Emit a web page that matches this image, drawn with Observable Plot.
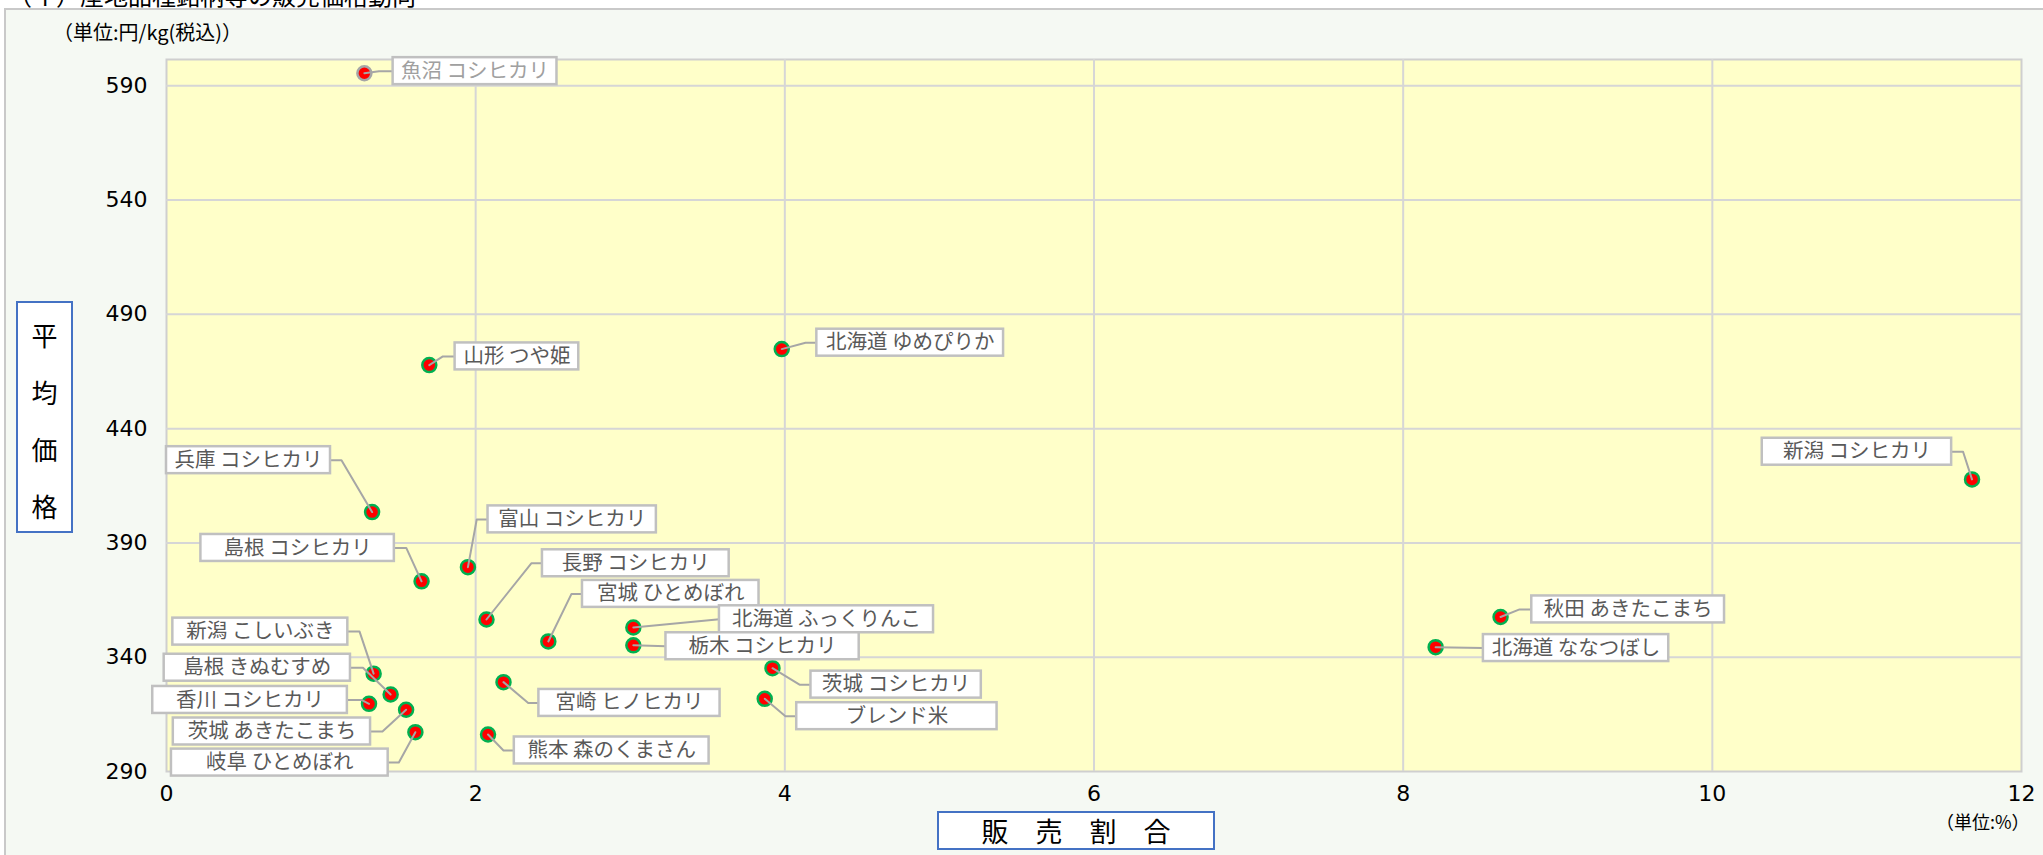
<!DOCTYPE html>
<html><head><meta charset="utf-8">
<script src="https://cdn.jsdelivr.net/npm/d3@7"></script>
<script src="https://cdn.jsdelivr.net/npm/@observablehq/plot@0.6"></script>
<style>
html,body{margin:0;padding:0;background:#fff;overflow:hidden;width:2043px;height:855px;}
#wrap{position:relative;width:2043px;height:855px;overflow:hidden;font-family:"Noto Sans CJK JP",sans-serif;}
#frame{position:absolute;left:4px;top:8px;width:2100px;height:900px;border:2px solid #c9c9c9;background:#f5f9f3;box-sizing:border-box;}
#title{position:absolute;left:8px;top:-17px;font-size:24px;line-height:24px;color:#000;white-space:nowrap;}
#chart{position:absolute;left:0;top:0;}
.unit{position:absolute;white-space:nowrap;color:#000;line-height:1;}
.axisbox{position:absolute;border:2px solid #4472c4;background:#fff;box-sizing:border-box;color:#000;text-align:center;}
</style>
</head><body>
<div id="wrap">
  <div id="title">（イ）産地品種銘柄等の販売価格動向</div>
  <div id="frame"></div>
  <div id="chart"></div>
  <div class="unit" style="left:53px;top:22px;font-size:20px;">（単位:円/kg(税込)）</div>
  <div class="unit" style="left:1936px;top:812px;font-size:18px;">（単位:%）</div>
  <div class="axisbox" style="left:16px;top:301px;width:57px;height:232px;font-size:26px;line-height:57px;padding-top:3px;">平<br>均<br>価<br>格</div>
  <div class="axisbox" style="left:937px;top:811px;width:278px;height:39px;font-size:27px;line-height:35px;">販　売　割　合</div>
</div>
<script>
// ---- data ----
const names = ["魚沼 コシヒカリ","山形 つや姫","北海道 ゆめぴりか","新潟 コシヒカリ","兵庫 コシヒカリ","富山 コシヒカリ","島根 コシヒカリ","長野 コシヒカリ","宮城 ひとめぼれ","北海道 ふっくりんこ","栃木 コシヒカリ","秋田 あきたこまち","北海道 ななつぼし","茨城 コシヒカリ","ブレンド米","宮崎 ヒノヒカリ","熊本 森のくまさん","新潟 こしいぶき","島根 きぬむすめ","香川 コシヒカリ","茨城 あきたこまち","岐阜 ひとめぼれ"];
const share = [1.28,1.70,3.98,11.68,1.33,1.95,1.65,2.07,2.47,3.02,3.02,8.63,8.21,3.92,3.87,2.18,2.08,1.34,1.45,1.31,1.55,1.61];
const price = [595.5,467.8,474.8,417.8,403.5,379.4,373.2,356.5,346.9,353.0,345.2,357.6,344.4,335.2,321.8,329.1,306.2,332.8,323.7,319.6,317.0,307.2];
const xTicks = [0,2,4,6,8,10,12];
const yTicks = [290,340,390,440,490,540,590];

// ---- label layout (data units): box left, box right, box centre y, leader elbow x ----
const labelLayout = [
  [1.466,2.526,596.4,1.375],
  [1.867,2.667,471.6,1.788],
  [4.207,5.415,477.6,4.134],
  [10.323,11.548,429.9,11.622],
  [0.0,1.061,426.2,1.132],
  [2.080,3.169,400.3,2.007],
  [0.2225,1.474,387.8,1.551],
  [2.432,3.640,381.1,2.360],
  [2.691,3.833,367.7,2.620],
  [3.577,4.962,356.6,3.577],
  [3.231,4.481,344.8,3.231],
  [8.832,10.079,360.9,8.753],
  [8.519,9.718,344.0,8.519],
  [4.169,5.271,328.0,4.095],
  [4.077,5.373,314.2,4.004],
  [2.409,3.581,320.0,2.340],
  [2.250,3.510,299.2,2.180],
  [0.041,1.173,351.2,1.249],
  [-0.015,1.190,335.4,1.271],
  [-0.089,1.170,321.3,1.261],
  [0.044,1.320,307.5,1.397],
  [0.032,1.434,293.9,1.503]
];
const BH = 5.9;
const dimmed = "魚沼 コシヒカリ";

const rows = names.map((n,i)=>({name:n, x:share[i], y:price[i],
  bx1:labelLayout[i][0], bx2:labelLayout[i][1], by:labelLayout[i][2], ex:labelLayout[i][3]}));
const leaders = rows.flatMap((d,i)=>{
  const edge = d.x < d.bx1 ? d.bx1 : d.bx2;
  return [{id:i,x:d.x,y:d.y},{id:i,x:d.ex,y:d.by},{id:i,x:edge,y:d.by}];
});

const chart = Plot.plot({
  width:2043, height:855,
  marginLeft:166, marginRight:22, marginTop:59, marginBottom:84,
  style:{background:"transparent", fontFamily:"DejaVu Sans", fontSize:"22px", color:"#000", overflow:"visible"},
  x:{domain:[0,12], ticks:xTicks, tickSize:0, tickPadding:14, label:null},
  y:{domain:[290,601.5], ticks:yTicks, tickSize:0, tickPadding:19, label:null},
  marks:[
    Plot.frame({fill:"#ffffc9", stroke:"#cfcfcf", strokeWidth:2}),
    Plot.ruleX(xTicks.slice(1,-1), {stroke:"#d6d6d6", strokeWidth:2}),
    Plot.ruleY(yTicks.slice(1), {stroke:"#d6d6d6", strokeWidth:2}),
    Plot.dot(rows.filter(d=>d.name!==dimmed), {x:"x", y:"y", r:7, fill:"#ff0000", stroke:"#00b050", strokeWidth:2.5}),
    Plot.dot(rows.filter(d=>d.name===dimmed), {x:"x", y:"y", r:7, fill:"#ff0000", stroke:"#a6a6a6", strokeWidth:2.5}),
    Plot.line(leaders, {x:"x", y:"y", z:"id", stroke:"#a6a6a6", strokeWidth:2}),
    Plot.rect(rows, {x1:"bx1", x2:"bx2", y1:d=>d.by-BH, y2:d=>d.by+BH, fill:"#ffffff", stroke:"#c0c0c0", strokeWidth:2.5}),
    Plot.text(rows.filter(d=>d.name!==dimmed), {x:d=>(d.bx1+d.bx2)/2, y:"by", text:"name", fontSize:20.5, fontFamily:"Noto Sans CJK JP", fill:"#595959"}),
    Plot.text(rows.filter(d=>d.name===dimmed), {x:d=>(d.bx1+d.bx2)/2, y:"by", text:"name", fontSize:20.5, fontFamily:"Noto Sans CJK JP", fill:"#a0a0a0"})
  ]
});
document.getElementById("chart").appendChild(chart);
</script>
</body></html>
